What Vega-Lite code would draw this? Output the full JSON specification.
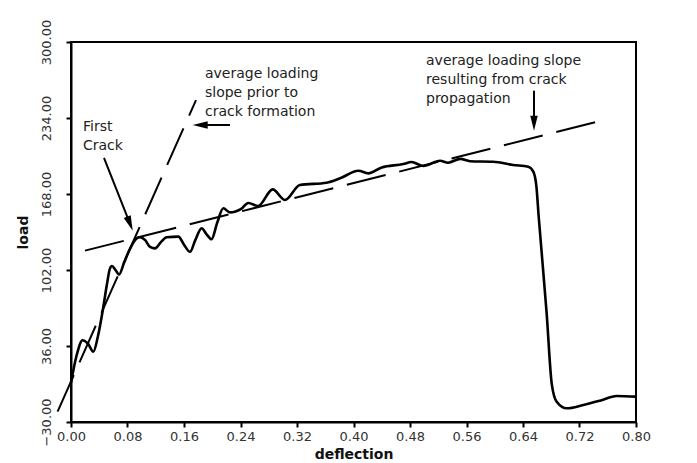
{
  "$schema": "https://vega.github.io/schema/vega-lite/v6.json",
  "width": 565,
  "height": 380,
  "autosize": {"type": "none"},
  "padding": {"left": 71, "top": 42, "right": 61, "bottom": 41},
  "background": "white",
  "config": {
    "font": "DejaVu Sans",
    "view": {"stroke": "black", "strokeWidth": 2},
    "axis": {
      "domainColor": "black", "domainWidth": 2,
      "tickColor": "black", "tickWidth": 2, "tickSize": 5,
      "labelFont": "DejaVu Sans", "labelFontSize": 13, "labelColor": "#333",
      "titleFont": "DejaVu Sans", "titleFontSize": 14, "titleFontWeight": "bold", "titleColor": "#111",
      "grid": false
    }
  },
  "datasets": {
    "curve": [
      {"deflection": 0.000, "load": 4},
      {"deflection": 0.008, "load": 28},
      {"deflection": 0.0165, "load": 41},
      {"deflection": 0.024, "load": 38},
      {"deflection": 0.0316, "load": 31},
      {"deflection": 0.038, "load": 44},
      {"deflection": 0.045, "load": 67},
      {"deflection": 0.051, "load": 90},
      {"deflection": 0.055, "load": 103},
      {"deflection": 0.058, "load": 105.5},
      {"deflection": 0.063, "load": 102},
      {"deflection": 0.068, "load": 98},
      {"deflection": 0.075, "load": 108},
      {"deflection": 0.081, "load": 117},
      {"deflection": 0.093, "load": 129.5},
      {"deflection": 0.098, "load": 130.5},
      {"deflection": 0.105, "load": 128},
      {"deflection": 0.112, "load": 122},
      {"deflection": 0.119, "load": 120.8},
      {"deflection": 0.127, "load": 126},
      {"deflection": 0.1355, "load": 130.4},
      {"deflection": 0.152, "load": 131},
      {"deflection": 0.160, "load": 124},
      {"deflection": 0.1685, "load": 117.8},
      {"deflection": 0.176, "load": 128},
      {"deflection": 0.185, "load": 138.2},
      {"deflection": 0.192, "load": 133},
      {"deflection": 0.199, "load": 128.7},
      {"deflection": 0.207, "load": 143},
      {"deflection": 0.2157, "load": 155.6},
      {"deflection": 0.225, "load": 152},
      {"deflection": 0.232, "load": 152.6},
      {"deflection": 0.241, "load": 155},
      {"deflection": 0.251, "load": 160.2},
      {"deflection": 0.265, "load": 157.6},
      {"deflection": 0.2856, "load": 172},
      {"deflection": 0.303, "load": 162.8},
      {"deflection": 0.324, "load": 175.8},
      {"deflection": 0.362, "load": 177.8},
      {"deflection": 0.381, "load": 181.6},
      {"deflection": 0.407, "load": 188.2},
      {"deflection": 0.421, "load": 185.9},
      {"deflection": 0.440, "load": 191.1},
      {"deflection": 0.4706, "load": 194},
      {"deflection": 0.482, "load": 195.8},
      {"deflection": 0.499, "load": 192.3},
      {"deflection": 0.5225, "load": 196.9},
      {"deflection": 0.534, "load": 195.2},
      {"deflection": 0.551, "load": 198.5},
      {"deflection": 0.565, "load": 196.5},
      {"deflection": 0.598, "load": 196},
      {"deflection": 0.626, "load": 193.2},
      {"deflection": 0.6475, "load": 191.7},
      {"deflection": 0.6546, "load": 187.4},
      {"deflection": 0.659, "load": 174.4},
      {"deflection": 0.662, "load": 150},
      {"deflection": 0.6735, "load": 64.4},
      {"deflection": 0.6806, "load": 3.6},
      {"deflection": 0.6877, "load": -12.4},
      {"deflection": 0.7019, "load": -18.1},
      {"deflection": 0.7254, "load": -15.2},
      {"deflection": 0.749, "load": -11.5},
      {"deflection": 0.7727, "load": -7.4},
      {"deflection": 0.8, "load": -8}
    ],
    "slopes": [
      {"slope": "prior", "deflection": -0.019, "load": -21},
      {"slope": "prior", "deflection": 0.177, "load": 249.6},
      {"slope": "propagation", "deflection": 0.0198, "load": 118.8},
      {"slope": "propagation", "deflection": 0.7514, "load": 231.7}
    ],
    "arrows": [
      {"arrow": "crack", "x": 0.0467, "y": 199.3, "x2": 0.0835, "y2": 142.2},
      {"arrow": "prior", "x": 0.2251, "y": 227.9, "x2": 0.1829, "y2": 227.9},
      {"arrow": "propagation", "x": 0.6556, "y": 257.7, "x2": 0.6556, "y2": 229.5}
    ],
    "notes": [
      {"x": 0.017, "y": 226.2, "text": "First\nCrack"},
      {"x": 0.1897, "y": 272.2, "text": "average loading\nslope prior to\ncrack formation"},
      {"x": 0.5027, "y": 283.5, "text": "average loading slope\nresulting from crack\npropagation"}
    ]
  },
  "layer": [
    {
      "data": {"name": "curve"},
      "mark": {"type": "line", "color": "black", "strokeWidth": 2.6, "interpolate": "monotone"},
      "encoding": {
        "x": {
          "field": "deflection", "type": "quantitative",
          "scale": {"domain": [0, 0.8], "nice": false, "zero": false},
          "axis": {
            "title": "deflection",
            "values": [0, 0.08, 0.16, 0.24, 0.32, 0.4, 0.48, 0.56, 0.64, 0.72, 0.8],
            "format": ".2f", "labelPadding": 3, "labelFlush": false,
            "titleY": 25, "titleBaseline": "top"
          }
        },
        "y": {
          "field": "load", "type": "quantitative",
          "scale": {"domain": [-30, 300], "nice": false, "zero": false},
          "axis": {
            "title": "load",
            "values": [-30, 36, 102, 168, 234, 300],
            "format": ".2f", "labelAngle": 270, "labelAlign": "center",
            "labelBaseline": "alphabetic", "labelPadding": 16, "labelFlush": false,
            "titleAngle": 270, "titleX": -48, "titleY": 190,
            "titleAlign": "center", "titleBaseline": "middle"
          }
        }
      }
    },
    {
      "data": {"name": "slopes"},
      "mark": {"type": "line", "color": "black", "strokeWidth": 2, "strokeDash": [40, 14], "clip": false},
      "encoding": {
        "x": {"field": "deflection", "type": "quantitative"},
        "y": {"field": "load", "type": "quantitative"},
        "detail": {"field": "slope"}
      }
    },
    {
      "data": {"name": "arrows"},
      "mark": {"type": "rule", "color": "black", "strokeWidth": 2},
      "encoding": {
        "x": {"field": "x", "type": "quantitative"},
        "y": {"field": "y", "type": "quantitative"},
        "x2": {"field": "x2"},
        "y2": {"field": "y2"}
      }
    },
    {
      "data": {"name": "arrows"},
      "transform": [{"filter": "datum.arrow === 'crack'"}],
      "mark": {"type": "point", "shape": "M-0.5,-1L0.5,-1L0,1Z", "filled": true, "color": "black", "opacity": 1, "size": 225, "angle": -21.5},
      "encoding": {
        "x": {"field": "x2", "type": "quantitative"},
        "y": {"field": "y2", "type": "quantitative"}
      }
    },
    {
      "data": {"name": "arrows"},
      "transform": [{"filter": "datum.arrow === 'prior'"}],
      "mark": {"type": "point", "shape": "M-0.5,-1L0.5,-1L0,1Z", "filled": true, "color": "black", "opacity": 1, "size": 225, "angle": 90},
      "encoding": {
        "x": {"field": "x2", "type": "quantitative"},
        "y": {"field": "y2", "type": "quantitative"}
      }
    },
    {
      "data": {"name": "arrows"},
      "transform": [{"filter": "datum.arrow === 'propagation'"}],
      "mark": {"type": "point", "shape": "M-0.5,-1L0.5,-1L0,1Z", "filled": true, "color": "black", "opacity": 1, "size": 225, "angle": 0},
      "encoding": {
        "x": {"field": "x2", "type": "quantitative"},
        "y": {"field": "y2", "type": "quantitative"}
      }
    },
    {
      "data": {"name": "notes"},
      "mark": {"type": "text", "align": "left", "baseline": "middle", "fontSize": 14, "lineHeight": 19, "lineBreak": "\n", "color": "#222", "font": "DejaVu Sans"},
      "encoding": {
        "x": {"field": "x", "type": "quantitative"},
        "y": {"field": "y", "type": "quantitative"},
        "text": {"field": "text"}
      }
    }
  ]
}
